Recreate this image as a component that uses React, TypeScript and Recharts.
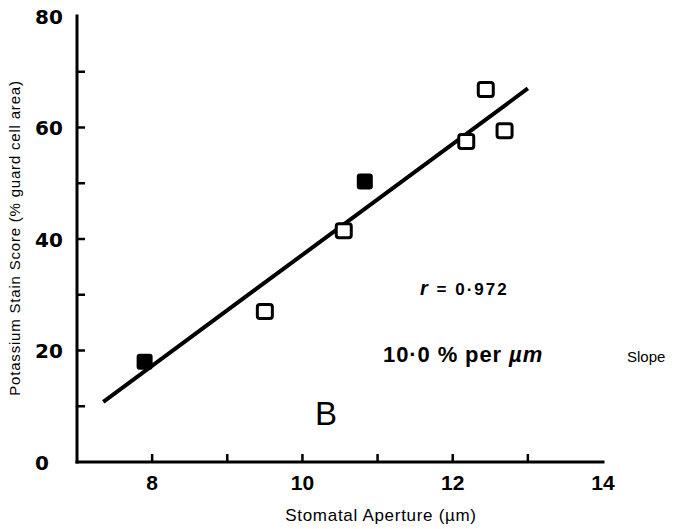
import { ScatterChart, Scatter, XAxis, YAxis } from 'recharts'

// stomatal aperture (µm) vs potassium stain score (% guard cell area)
const xTicks = [7, 8, 9, 10, 11, 12, 13, 14]
const xLabelled = [8, 10, 12, 14]
const yTicks = [0, 10, 20, 30, 40, 50, 60, 70, 80]
const yLabelled = [0, 20, 40, 60, 80]

const openPoints = [
  { aperture: 9.5, score: 27 },
  { aperture: 10.55, score: 41.5 },
  { aperture: 12.18, score: 57.5 },
  { aperture: 12.44, score: 66.8 },
  { aperture: 12.69, score: 59.4 },
]

const filledPoints = [
  { aperture: 7.9, score: 18 },
  { aperture: 10.83, score: 50.3 },
]

// fitted regression line, slope 10.0 % per µm
const fitLine = [
  { aperture: 7.35, score: 10.8 },
  { aperture: 13.0, score: 67 },
]

const INK = '#000'
const TICK_FONT = '"Liberation Sans", Arial, sans-serif'

function BottomTick({ x, y, payload }: any) {
  const v = payload.value
  return (
    <g>
      {v > 7 && v < 14 && <line x1={x} y1={y} x2={x} y2={y - 8} stroke={INK} strokeWidth={2.5} />}
      {xLabelled.includes(v) && (
        <text x={x} y={y + 28} textAnchor="middle" fontFamily={TICK_FONT} fontWeight="bold" fontSize={21} fill={INK}>
          {v}
        </text>
      )}
    </g>
  )
}

function TopTick({ x, y, payload }: any) {
  const v = payload.value
  if (v <= 7 || v >= 14) return <g />
  return <line x1={x} y1={y} x2={x} y2={y + 7} stroke={INK} strokeWidth={2.5} />
}

function LeftTick({ x, y, payload }: any) {
  const v = payload.value
  return (
    <g>
      {v > 0 && v < 80 && <line x1={x} y1={y} x2={x + 8} y2={y} stroke={INK} strokeWidth={2.5} />}
      {yLabelled.includes(v) && (
        <text x={35} y={y + 7.5} textAnchor="start" fontFamily='"DejaVu Sans", sans-serif' fontWeight="bold" fontSize={20} fill={INK}>
          {v}
        </text>
      )}
    </g>
  )
}

function RightTick({ x, y, payload }: any) {
  const v = payload.value
  if (v <= 0 || v >= 80) return <g />
  return <line x1={x} y1={y} x2={x - 8} y2={y} stroke={INK} strokeWidth={2.5} />
}

const OpenSquare = (p: any) => (
  <rect x={p.cx - 7.5} y={p.cy - 7} width={15} height={14} rx={2.5} fill="#fff" stroke={INK} strokeWidth={3} />
)

const FilledSquare = (p: any) => (
  <rect x={p.cx - 8} y={p.cy - 8} width={16} height={16} rx={3} fill={INK} />
)

const axisLine = { stroke: INK, strokeWidth: 3, strokeLinecap: 'square' as const }

export default function App() {
  return (
    <div style={{ position: 'absolute', left: 0, top: 0, width: 677, height: 529, background: '#fff' }}>
      <ScatterChart width={677} height={529} margin={{ top: 16, right: 74, bottom: 0, left: 0 }}>
        <XAxis
          type="number"
          dataKey="aperture"
          domain={[7, 14]}
          ticks={xTicks}
          interval={0}
          height={67}
          tickSize={0}
          tickMargin={0}
          tickLine={false}
          axisLine={axisLine}
          tick={BottomTick}
          allowDataOverflow
        />
        <XAxis
          xAxisId="top"
          orientation="top"
          type="number"
          domain={[7, 14]}
          ticks={xTicks}
          interval={0}
          height={0}
          tickSize={0}
          tickMargin={0}
          tickLine={false}
          axisLine={axisLine}
          tick={TopTick}
          allowDataOverflow
        />
        <YAxis
          type="number"
          dataKey="score"
          domain={[0, 80]}
          ticks={yTicks}
          interval={0}
          width={77}
          tickSize={0}
          tickMargin={0}
          tickLine={false}
          axisLine={axisLine}
          tick={LeftTick}
          allowDataOverflow
        />
        <YAxis
          yAxisId="right"
          orientation="right"
          type="number"
          domain={[0, 80]}
          ticks={yTicks}
          interval={0}
          width={0}
          tickSize={0}
          tickMargin={0}
          tickLine={false}
          axisLine={axisLine}
          tick={RightTick}
          allowDataOverflow
        />
        <Scatter
          data={fitLine}
          line={{ stroke: INK, strokeWidth: 4 }}
          shape={() => <g />}
          isAnimationActive={false}
        />
        <Scatter data={openPoints} shape={OpenSquare} isAnimationActive={false} />
        <Scatter data={filledPoints} shape={FilledSquare} isAnimationActive={false} />
      </ScatterChart>

      <svg width={677} height={529} style={{ position: 'absolute', left: 0, top: 0, pointerEvents: 'none' }}>
        <g fontFamily='"Liberation Sans", Arial, sans-serif' fill={INK}>
          <text transform="translate(20,238) rotate(-90)" textAnchor="middle" fontSize={15} letterSpacing={0.8}>
            Potassium Stain Score (% guard cell area)
          </text>
          <text x={381} y={521} textAnchor="middle" fontSize={17} letterSpacing={0.7}>
            Stomatal Aperture (µm)
          </text>
          <text x={420} y={295} fontSize={17} fontWeight="bold" letterSpacing={2}>
            <tspan fontStyle="italic" fontSize={20}>r</tspan> = 0·972
          </text>
          <text x={383} y={362} fontSize={22} fontWeight="bold" letterSpacing={0.9}>
            10·0 % per <tspan fontStyle="italic">µm</tspan>
          </text>
          <text x={627} y={362} fontSize={15}>
            Slope
          </text>
          <text x={315} y={425} fontSize={33}>
            B
          </text>
        </g>
      </svg>
    </div>
  )
}
